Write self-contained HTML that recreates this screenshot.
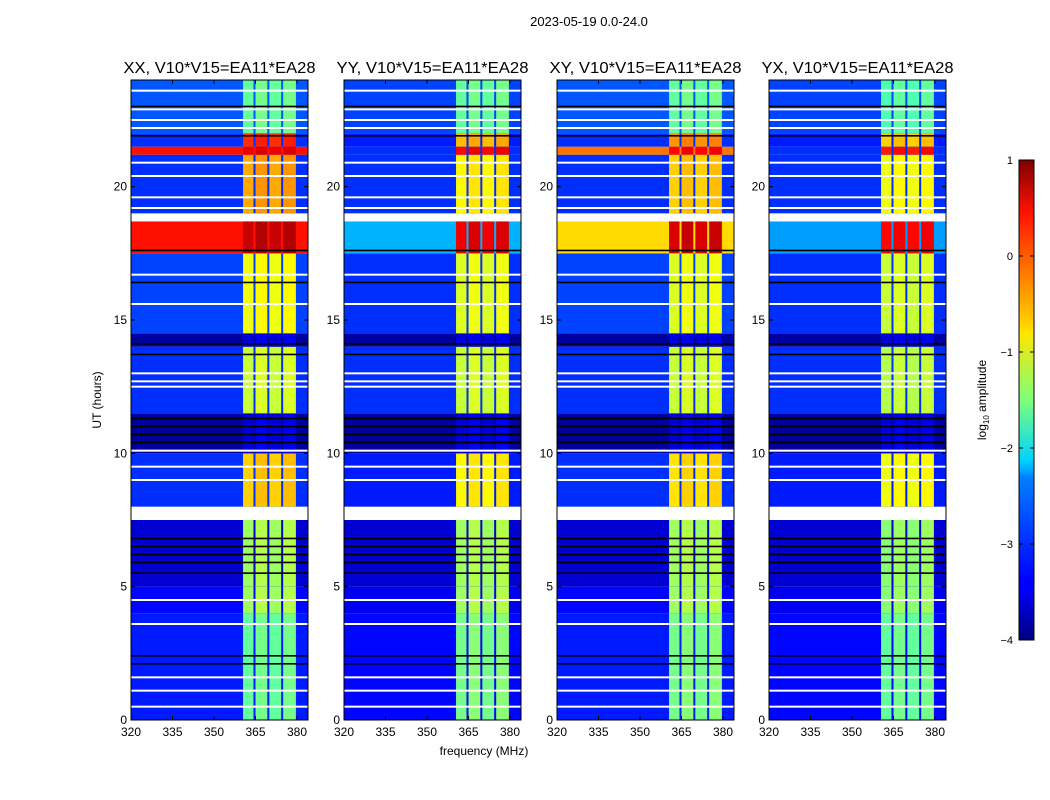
<!DOCTYPE html>
<html><head><meta charset="utf-8"><style>
body{margin:0;background:#fff;}
svg{display:block;font-family:"Liberation Sans",sans-serif;}
</style></head><body>
<svg id="chart" width="1050" height="800" viewBox="0 0 1050 800" xmlns="http://www.w3.org/2000/svg">
<defs>
<linearGradient id="jet" x1="0" y1="1" x2="0" y2="0">
<stop offset="0" stop-color="#00007f"/><stop offset="0.11" stop-color="#0000ff"/>
<stop offset="0.125" stop-color="#0000ff"/><stop offset="0.34" stop-color="#0080ff"/>
<stop offset="0.35" stop-color="#00a0ff"/><stop offset="0.375" stop-color="#00d4ff"/>
<stop offset="0.5" stop-color="#7dff7a"/><stop offset="0.64" stop-color="#ffe600"/>
<stop offset="0.66" stop-color="#ffd000"/><stop offset="0.89" stop-color="#ff1300"/>
<stop offset="1" stop-color="#7f0000"/>
</linearGradient>
</defs>
<text x="589" y="26" text-anchor="middle" font-size="13">2023-05-19 0.0-24.0</text>
<g id="panels"></g>
<text x="484" y="755" text-anchor="middle" font-size="12">frequency (MHz)</text>
<text transform="translate(101,400) rotate(-90)" text-anchor="middle" font-size="12">UT (hours)</text>
<rect x="1019" y="160" width="15" height="480" fill="url(#jet)" stroke="#000" stroke-width="1"/>
<g id="cbticks"></g>
<text transform="translate(986,400) rotate(-90)" text-anchor="middle" font-size="12">log<tspan font-size="8" dy="3">10</tspan><tspan dy="-3"> amplitude</tspan></text>
</svg>
<script>
const titles = ["XX, V10*V15=EA11*EA28","YY, V10*V15=EA11*EA28","XY, V10*V15=EA11*EA28","YX, V10*V15=EA11*EA28"];
const segHours = [0,4,5,7.5,8,10,11.5,14,14.5,17.5,18.7,19,21.2,21.5,22,24];
const bgXX = [-3.25,-3.35,-3.6,null,-3.15,-3.85,-3.15,-3.85,-3.05,0.3,null,-3.15,0.3,-3.15,-2.95];
const bandXX = [-1.6,-1.3,-1.3,null,-0.6,-3.5,-1.1,-3.5,-0.9,0.7,null,-0.4,0.5,0.2,-1.6];
const bgYY = [-3.35,-3.45,-3.6,null,-3.25,-3.85,-3.15,-3.85,-3.15,-2.5,null,-3.15,-3.15,-3.25,-3.05];
const bandYY = [-1.5,-1.3,-1.3,null,-0.8,-3.5,-1.1,-3.5,-1.0,0.5,null,-0.8,0.4,-0.5,-1.6];
const bgXY = [-3.25,-3.35,-3.6,null,-3.15,-3.85,-3.15,-3.85,-3.05,-0.7,null,-3.15,-0.2,-3.15,-2.95];
const bandXY = [-1.5,-1.3,-1.3,null,-0.7,-3.5,-1.1,-3.5,-1.0,0.6,null,-0.6,0.4,-0.3,-1.6];
const bgYX = [-3.35,-3.45,-3.6,null,-3.25,-3.85,-3.15,-3.85,-3.15,-2.6,null,-3.15,-3.15,-3.25,-3.05];
const bandYX = [-1.6,-1.4,-1.4,null,-0.9,-3.5,-1.2,-3.5,-1.1,0.4,null,-0.9,0.3,-0.6,-1.7];
const whiteHours = [0.5,1.1,1.6,3.6,4.5,9.0,9.5,10.1,12.5,12.7,13.0,15.6,16.7,19.2,19.6,20.4,20.9,22.2,22.5,22.9,23.6];
const blackHours = [2.1,2.4,5.5,5.9,6.2,6.5,6.8,10.4,10.7,11.0,11.3,13.7,14.1,16.4,17.6,21.9,23.0];
const bandEdges = [360.5,365,370,375,379.6];
const xTicks = [320,335,350,365,380];
const yTicks = [0,5,10,15,20];
const cbTicks = [1,0,-1,-2,-3,-4];
const bgs = [bgXX,bgYY,bgXY,bgYX], bands=[bandXX,bandYY,bandXY,bandYX];
const panelX = [131,344,557,769], PW=177, PT=80, PB=720;
const NS="http://www.w3.org/2000/svg";

function jet(v){
  let t=(v+4)/5; t=Math.max(0,Math.min(1,t));
  const f=x=>Math.max(0,Math.min(1,x));
  const r=f(1.5-Math.abs(4*t-3)), g=f(1.5-Math.abs(4*t-2)), b=f(1.5-Math.abs(4*t-1));
  return `rgb(${Math.round(r*255)},${Math.round(g*255)},${Math.round(b*255)})`;
}
function mk(tag,attrs,parent){const e=document.createElementNS(NS,tag);for(const k in attrs)e.setAttribute(k,attrs[k]);parent.appendChild(e);return e;}
const root=document.getElementById('panels');
panelX.forEach((x0,p)=>{
  const xs=f=>x0+(f-320)*(166/60);
  const ys=h=>PB-(h/24)*(PB-PT);
  const g=mk('g',{},root);
  
  
  for(let i=0;i<segHours.length-1;i++){
    const y1=ys(segHours[i+1]), y2=ys(segHours[i]);
    const bg=bgs[p][i], bd=bands[p][i];
    const r=mk('rect',{x:x0,y:y1,width:PW,height:y2-y1,fill:bg==null?'#fff':jet(bg)},g);
    
    
    if(bd!=null){
      for(let k=0;k<bandEdges.length-1;k++){
        const bx=xs(bandEdges[k]), bw=xs(bandEdges[k+1])-bx-(k<bandEdges.length-2?2:0);
        const c=mk('rect',{x:bx,y:y1,width:bw,height:y2-y1,fill:jet(bd+(k%2?0.05:-0.05))},g);
        
        
      }
    }
  }
  whiteHours.forEach(h=>{const l=mk('rect',{x:x0,y:ys(h)-1,width:PW,height:2,fill:'#fff'},g);
    
    });
  blackHours.forEach(h=>{const l=mk('rect',{x:x0,y:ys(h)-1,width:PW,height:1.6,fill:'#000'},g);
    
    });
  mk('rect',{x:x0,y:PT,width:PW,height:PB-PT,fill:'none',stroke:'#000','stroke-width':1},g);
  const t=mk('text',{x:x0+PW/2,y:73,'text-anchor':'middle','font-size':16,textLength:192,lengthAdjust:'spacingAndGlyphs'},g);t.textContent=titles[p];
  
  
  xTicks.forEach(v=>{const X=xs(v);mk('line',{x1:X,x2:X,y1:PB,y2:PB-4,stroke:'#000'},g);mk('line',{x1:X,x2:X,y1:PT,y2:PT+4,stroke:'#000'},g);
    const tx=mk('text',{x:X,y:PB+16,'text-anchor':'middle','font-size':12},g);tx.textContent=v;
    
    });
  yTicks.forEach(v=>{const Y=ys(v);mk('line',{x1:x0,x2:x0+4,y1:Y,y2:Y,stroke:'#000'},g);mk('line',{x1:x0+PW,x2:x0+PW-4,y1:Y,y2:Y,stroke:'#000'},g);
    const ty=mk('text',{x:x0-4,y:Y+4,'text-anchor':'end','font-size':12},g);ty.textContent=v;
    
    });
});
const cb=document.getElementById('cbticks');
cbTicks.forEach(v=>{const Y=160+(1-v)*96;
  mk('line',{x1:1019,x2:1023,y1:Y,y2:Y,stroke:'#000'},cb);mk('line',{x1:1030,x2:1034,y1:Y,y2:Y,stroke:'#000'},cb);
  const t=mk('text',{x:1013,y:Y+4,'text-anchor':'end','font-size':11},cb);t.textContent=v<0?'\u2212'+(-v):v;
  
  });
</script>
</body></html>
